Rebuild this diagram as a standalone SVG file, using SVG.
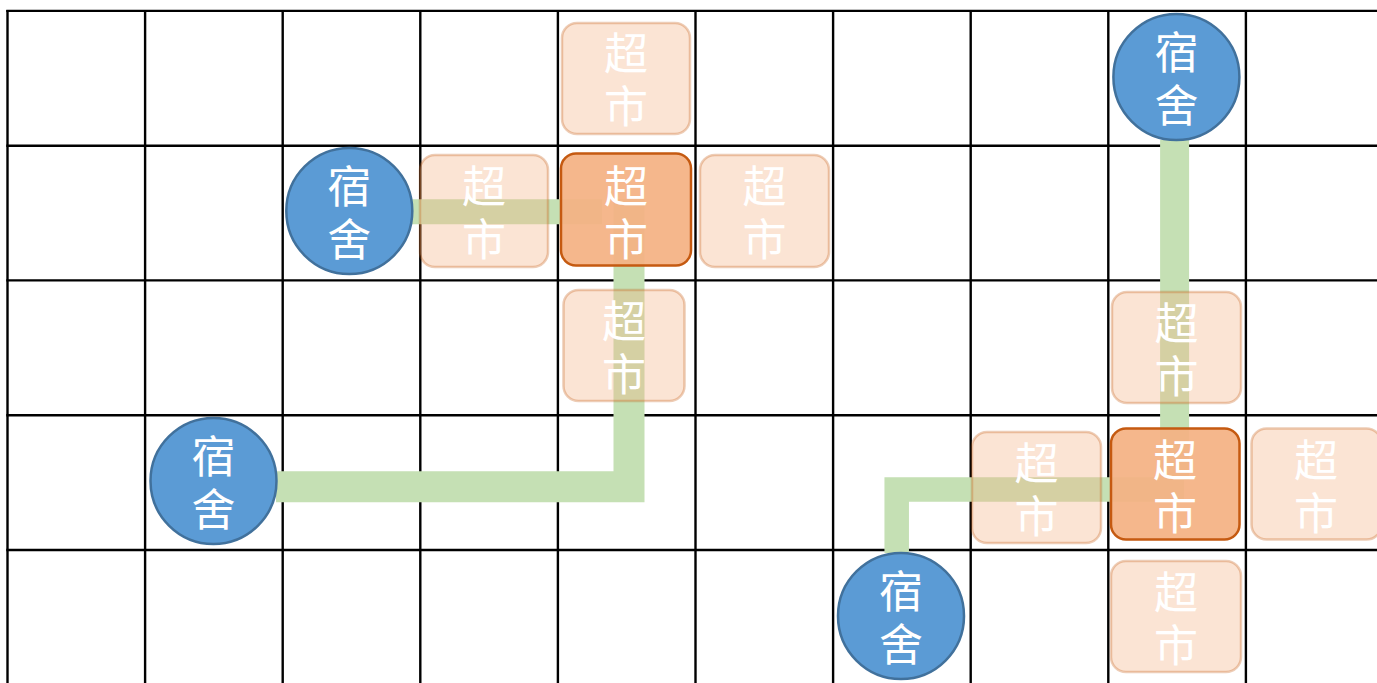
<svg xmlns="http://www.w3.org/2000/svg" width="1377" height="683" viewBox="0 0 1377 683">
<style>
.grid line{stroke:#000;stroke-width:2.4}
.road{fill:none;stroke:#C5E0B4;stroke-linejoin:miter;stroke-linecap:butt}
.dorm circle{fill:#5B9BD5;stroke:#41719C;stroke-width:2.5}
.hl rect{fill:#F4B183;fill-opacity:0.93;stroke:#C55A11;stroke-width:2.5}
.fd rect{fill:#F4B183;fill-opacity:0.35;stroke:#C55A11;stroke-opacity:0.3;stroke-width:2.5}
text{font-family:"Liberation Serif","Noto Sans CJK SC","Noto Sans CJK JP",serif;font-size:44px;fill:#fff;text-anchor:middle;dominant-baseline:central}
</style>
<rect width="1377" height="683" fill="#fff"/>
<g class="grid">
<line x1="7.5" y1="10" x2="7.5" y2="683"/>
<line x1="145.1" y1="10" x2="145.1" y2="683"/>
<line x1="282.7" y1="10" x2="282.7" y2="683"/>
<line x1="420.3" y1="10" x2="420.3" y2="683"/>
<line x1="557.9" y1="10" x2="557.9" y2="683"/>
<line x1="695.5" y1="10" x2="695.5" y2="683"/>
<line x1="833.1" y1="10" x2="833.1" y2="683"/>
<line x1="970.7" y1="10" x2="970.7" y2="683"/>
<line x1="1108.3" y1="10" x2="1108.3" y2="683"/>
<line x1="1245.9" y1="10" x2="1245.9" y2="683"/>
<line x1="6.3" y1="10.9" x2="1377" y2="10.9"/>
<line x1="6.3" y1="145.7" x2="1377" y2="145.7"/>
<line x1="6.3" y1="280.4" x2="1377" y2="280.4"/>
<line x1="6.3" y1="415.2" x2="1377" y2="415.2"/>
<line x1="6.3" y1="550" x2="1377" y2="550"/>
</g>
<g id="connectors">
<path class="road" d="M412 211.7 H602" stroke-width="25"/>
<path class="road" d="M276 486.7 H629 V199" stroke-width="31"/>
<path class="road" d="M1174.6 140 V480" stroke-width="29"/>
<path class="road" d="M896.7 553 V489.5 H1184" stroke-width="24.5"/>
</g>
<g id="market-a1" class="fd"><rect x="562" y="23" width="128" height="111" rx="15"/><text x="626" y="55">超<tspan x="626" dy="53">市</tspan></text></g>
<g id="market-a2" class="fd"><rect x="420" y="155" width="128" height="112" rx="15"/><text x="484" y="188">超<tspan x="484" dy="53">市</tspan></text></g>
<g id="market-a3" class="fd"><rect x="700" y="155" width="129" height="112" rx="15"/><text x="764.5" y="188">超<tspan x="764.5" dy="53">市</tspan></text></g>
<g id="market-a4" class="fd"><rect x="563.5" y="290" width="121" height="111" rx="15"/><text x="624" y="323">超<tspan x="624" dy="53">市</tspan></text></g>
<g id="market-a" class="hl"><rect x="561" y="153.5" width="130" height="112" rx="15"/><text x="626" y="188">超<tspan x="626" dy="53">市</tspan></text></g>
<g id="market-b1" class="fd"><rect x="1112" y="292" width="129" height="111" rx="15"/><text x="1176.5" y="325">超<tspan x="1176.5" dy="53">市</tspan></text></g>
<g id="market-b2" class="fd"><rect x="972" y="432" width="129" height="111" rx="15"/><text x="1036.5" y="465">超<tspan x="1036.5" dy="53">市</tspan></text></g>
<g id="market-b3" class="fd"><rect x="1251.5" y="428.5" width="130" height="111" rx="15"/><text x="1316" y="462">超<tspan x="1316" dy="53">市</tspan></text></g>
<g id="market-b4" class="fd"><rect x="1111" y="561" width="130" height="111" rx="15"/><text x="1176" y="594">超<tspan x="1176" dy="53">市</tspan></text></g>
<g id="market-b" class="hl"><rect x="1111" y="428.5" width="128.5" height="111" rx="15"/><text x="1175" y="462">超<tspan x="1175" dy="53">市</tspan></text></g>
<g id="dorm-1" class="dorm"><circle cx="349.3" cy="211" r="63"/><text x="349.3" y="188">宿<tspan x="349.3" dy="53">舍</tspan></text></g>
<g id="dorm-2" class="dorm"><circle cx="213.5" cy="481" r="63"/><text x="213.5" y="458">宿<tspan x="213.5" dy="53">舍</tspan></text></g>
<g id="dorm-3" class="dorm"><circle cx="901" cy="616" r="63"/><text x="901" y="593">宿<tspan x="901" dy="53">舍</tspan></text></g>
<g id="dorm-4" class="dorm"><circle cx="1176.4" cy="77" r="63"/><text x="1176.4" y="54">宿<tspan x="1176.4" dy="53">舍</tspan></text></g>
</svg>
